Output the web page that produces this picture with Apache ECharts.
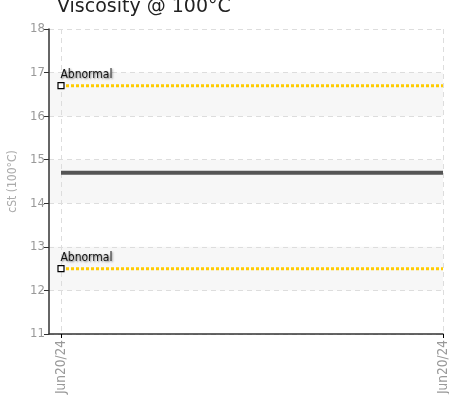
<!DOCTYPE html>
<html><head><meta charset="utf-8">
<script src="https://cdn.jsdelivr.net/npm/echarts@6/dist/echarts.min.js"></script>
<style>html,body{margin:0;padding:0;background:#fff}#c{width:449px;height:410px}</style>
</head><body><div id="c"></div>
<script>
const dates = ['Jun20/24', 'Jun20/24'];
const upperLimit = [16.7, 16.7];
const lowerLimit = [12.5, 12.5];
const viscosity = [14.7, 14.7];
const limitLabel = 'Abnormal';
const yTicks = [11, 12, 13, 14, 15, 16, 17, 18];

const toPts = arr => arr.map((v, i) => [i, v]);
const cond = '"DejaVu Sans Condensed","Liberation Sans Narrow",sans-serif';

function limitSeries(arr) {
  return {
    type: 'line', silent: true,
    data: toPts(arr).map((d, i) => i === 0 ? { value: d } : { value: d, symbol: 'none' }),
    lineStyle: { color: '#FFCC00', width: 3, type: [3, 2] },
    symbol: 'rect', symbolSize: 6,
    itemStyle: { color: '#fff', borderColor: '#000', borderWidth: 1.2 },
    showSymbol: true,
    label: {
      show: true, formatter: p => p.dataIndex === 0 ? limitLabel : '',
      position: [3, -13], align: 'left', verticalAlign: 'top',
      fontFamily: cond, fontSize: 12, fontWeight: 'normal', color: '#111',
      textShadowColor: 'rgba(0,0,0,0.5)', textShadowBlur: 2, textShadowOffsetX: 1, textShadowOffsetY: 1
    },
    z: 3
  };
}

const chart = echarts.init(document.getElementById('c'));
chart.setOption({
  animation: false,
  title: {
    text: 'Viscosity @ 100°C', left: 52, top: -7,
    textStyle: { fontFamily: '"DejaVu Sans",sans-serif', fontSize: 19, fontWeight: 'normal', color: '#222' }
  },
  grid: { left: 49, right: 6, top: 29, bottom: 76, containLabel: false, outerBoundsMode: 'none' },
  xAxis: {
    type: 'value', min: -12 / 382, max: dates.length - 1,
    axisLine: { show: true, onZero: false, lineStyle: { color: '#333', width: 1.5 } },
    axisTick: { show: true, customValues: dates.map((d, i) => i), length: 4, inside: false, lineStyle: { color: '#000' } },
    axisLabel: {
      customValues: dates.map((d, i) => i),
      formatter: v => dates[Math.round(v)] || '',
      rotate: 90, color: '#999', fontFamily: cond, fontSize: 13.5, margin: 6
    },
    splitLine: { show: true, lineStyle: { color: '#ddd', type: [5, 4] } }
  },
  yAxis: {
    type: 'value', min: yTicks[0], max: yTicks[yTicks.length - 1], interval: 1,
    name: 'cSt (100°C)', nameLocation: 'middle', nameGap: 22,
    nameTextStyle: { color: '#aaa', fontFamily: cond, fontSize: 12 },
    axisLine: { show: true, onZero: false, lineStyle: { color: '#333', width: 1.5 } },
    axisTick: { show: true, length: 5, lineStyle: { color: '#333' } },
    axisLabel: { color: '#999', fontFamily: cond, fontSize: 13, margin: 4 },
    splitLine: { show: true, lineStyle: { color: '#ddd', type: [5, 4] } },
    splitArea: { show: true, areaStyle: { color: ['rgba(0,0,0,0)', '#f7f7f7'] } }
  },
  series: [
    {
      type: 'line', data: toPts(viscosity), symbol: 'none', silent: true,
      lineStyle: { color: '#555', width: 4 }, z: 2
    },
    limitSeries(upperLimit), limitSeries(lowerLimit)
  ]
});
</script></body></html>
